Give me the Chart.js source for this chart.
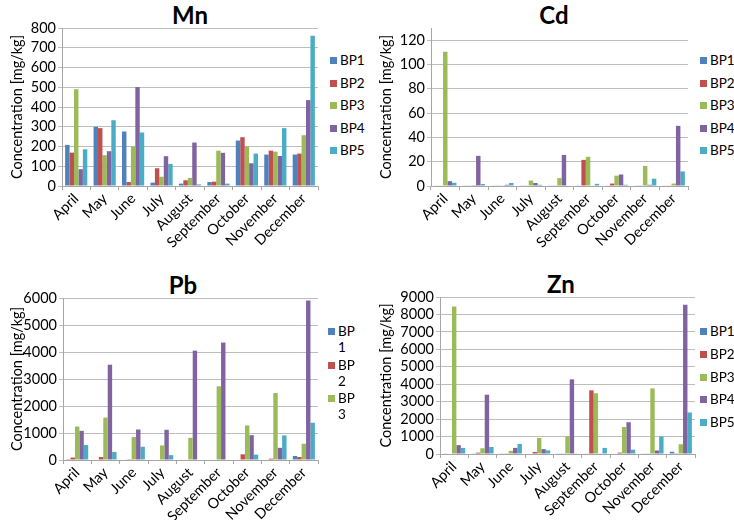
<!DOCTYPE html>
<html lang="en">
<head>
  <meta charset="UTF-8" />
  <title>Metal concentrations</title>
  <script src="https://cdn.jsdelivr.net/npm/chart.js"></script>
  <style>
    body { margin: 0; background: #fff; }
    #wrap { position: relative; width: 734px; height: 520px; overflow: hidden; background: #fff; font-family: Lato, sans-serif; }
    #wrap canvas { position: absolute; }
    .ttl { position: absolute; font-weight: bold; font-size: 24px; line-height: 28px; color: #000; transform: translateX(-50%); }
    .leg { position: absolute; font-size: 13.5px; line-height: 16px; color: #000; }
    .leg span { position: absolute; width: 7px; height: 7px; left: -10px; top: 5px; }
  </style>
</head>
<body>
<div id="wrap">
  <div class="ttl" style="left:190px; top:1px;">Mn</div>
  <div class="ttl" style="left:554px; top:1px;">Cd</div>
  <div class="ttl" style="left:183px; top:271px;">Pb</div>
  <div class="ttl" style="left:561px; top:270px;">Zn</div>
  <canvas id="cMn" width="330" height="260" style="left:0; top:0;"></canvas>
  <canvas id="cCd" width="330" height="260" style="left:367px; top:0;"></canvas>
  <canvas id="cPb" width="330" height="275" style="left:0; top:260px;"></canvas>
  <canvas id="cZn" width="337" height="275" style="left:367px; top:260px;"></canvas>
</div>

<script>
  const months = ['April', 'May', 'June', 'July', 'August', 'September', 'October', 'November', 'December'];
  const sites = ['BP1', 'BP2', 'BP3', 'BP4', 'BP5'];
  const siteColors = ['#4f81bd', '#c0504d', '#9bbb59', '#8064a2', '#4bacc6'];

  // one row per site (BP1..BP5), one value per month
  const mnValues = [
    [208, 300, 276, 17, 12, 20, 230, 159, 159],
    [169, 293, 20, 90, 29, 22, 247, 179, 164],
    [490, 156, 200, 47, 41, 179, 200, 174, 257],
    [85, 176, 501, 151, 220, 168, 115, 152, 435],
    [186, 333, 271, 112, 8, 12, 164, 293, 761]
  ];
  const cdValues = [
    [0.5, 0.5, 0.3, 0.5, 0.3, 0.3, 0.5, 0.3, 0.5],
    [0.5, 0.5, 0.3, 0.5, 0.3, 21.5, 2, 0.3, 0.5],
    [110.5, 0.8, 0.3, 4.5, 6.5, 24, 8.5, 16.5, 2],
    [4, 24.8, 1, 2.5, 25.5, 0.5, 9.5, 1, 49.5],
    [2.7, 1.6, 2.5, 1, 0.5, 1.8, 1, 6, 12]
  ];
  const pbValues = [
    [30, 20, 20, 20, 20, 20, 20, 20, 150],
    [90, 110, 30, 20, 20, 20, 210, 50, 110],
    [1240, 1570, 850, 540, 820, 2730, 1280, 2480, 600],
    [1080, 3530, 1130, 1120, 4050, 4350, 920, 450, 5910],
    [555, 300, 490, 180, 20, 20, 200, 910, 1380]
  ];
  const znValues = [
    [20, 20, 20, 30, 20, 20, 30, 20, 130],
    [30, 80, 40, 120, 20, 3650, 80, 20, 40],
    [8450, 330, 180, 920, 1000, 3480, 1550, 3760, 560],
    [510, 3400, 350, 280, 4280, 20, 1820, 200, 8550],
    [350, 400, 580, 210, 20, 350, 250, 1000, 2380]
  ];

  const mnTicks = [0, 100, 200, 300, 400, 500, 600, 700, 800];
  const cdTicks = [0, 20, 40, 60, 80, 100, 120];
  const pbTicks = [0, 1000, 2000, 3000, 4000, 5000, 6000];
  const znTicks = [0, 1000, 2000, 3000, 4000, 5000, 6000, 7000, 8000, 9000];

  const font = { family: 'Lato', size: 14.5 };

  function drawPanel(id, values, yTicks, yMax, box) {
    const ctx = document.getElementById(id).getContext('2d');
    new Chart(ctx, {
      type: 'bar',
      data: {
        labels: months,
        datasets: sites.map((s, i) => ({
          label: s,
          data: values[i],
          backgroundColor: siteColors[i],
          categoryPercentage: 0.78,
          barPercentage: 1.0
        }))
      },
      options: {
        responsive: false,
        animation: false,
        layout: { padding: { top: box.top, right: box.right, left: 0, bottom: 0 } },
        plugins: { legend: { display: false }, tooltip: { enabled: false } },
        scales: {
          x: {
            grid: { drawOnChartArea: false, tickLength: 4, color: '#a6a6a6' },
            border: { color: '#a6a6a6' },
            ticks: { minRotation: 45, maxRotation: 45, autoSkip: false, padding: 0, color: '#000', font },
            afterFit: s => { s.height = box.xh; }
          },
          y: {
            min: 0,
            max: yMax,
            afterBuildTicks: s => { s.ticks = yTicks.map(v => ({ value: v })); },
            grid: { color: '#bdbdbd', tickLength: 4 },
            border: { color: '#a6a6a6' },
            ticks: { autoSkip: false, padding: 2, color: '#000', font, callback: v => String(v) },
            title: {
              display: true,
              text: 'Concentration [mg/kg]',
              color: '#000',
              font,
              padding: { top: box.tp, bottom: 0 }
            },
            afterFit: s => { s.width = box.left; }
          }
        }
      }
    });
  }

  function legend(x, y0, gap, n, wrap) {
    const wrapEl = document.getElementById('wrap');
    for (let i = 0; i < n; i++) {
      const d = document.createElement('div');
      d.className = 'leg';
      d.style.left = x + 'px';
      d.style.top = (y0 + i * gap - 8) + 'px';
      d.innerHTML = '<span style="background:' + siteColors[i] + '"></span>' +
        (wrap ? 'BP<br>' + (i + 1) : sites[i]);
      wrapEl.appendChild(d);
    }
  }

  drawPanel('cMn', mnValues, mnTicks, 800, { top: 28, right: 12, left: 62, xh: 74, tp: 9 });
  drawPanel('cCd', cdValues, cdTicks, 130, { top: 28, right: 9, left: 64, xh: 74, tp: 11 });
  drawPanel('cPb', pbValues, pbTicks, 6000, { top: 38, right: 12, left: 63, xh: 75, tp: 9 });
  drawPanel('cZn', znValues, znTicks, 9000, { top: 37, right: 9, left: 73, xh: 81, tp: 11 });

  legend(340, 60, 22.6, 5, false);
  legend(710, 60, 22.6, 5, false);
  legend(338, 331, 33.5, 3, true);
  legend(710, 331, 22.8, 5, false);
</script>
</body>
</html>
